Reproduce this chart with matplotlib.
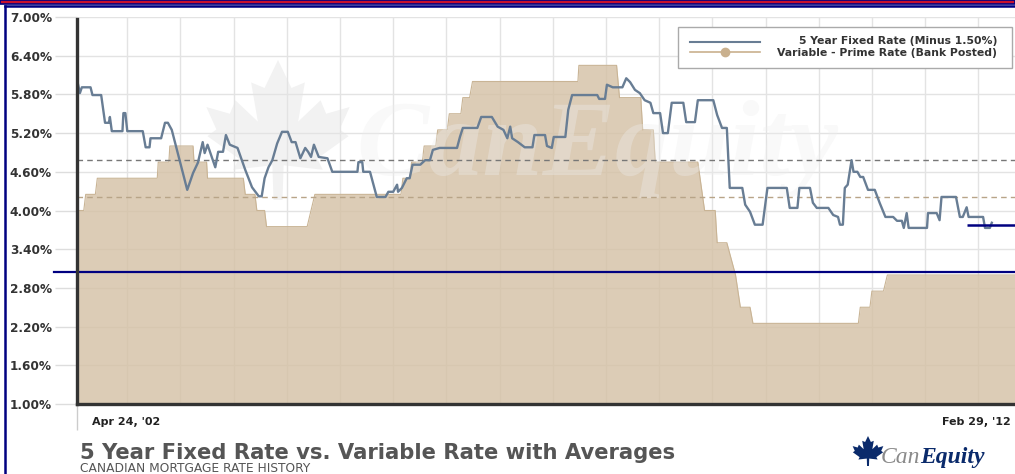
import matplotlib.pyplot as plt
import numpy as np
from matplotlib.patches import Rectangle, Polygon
from matplotlib.lines import Line2D

# 5 year fixed rate minus 1.50% (decimal year, %)
fixed_t = [2002.32, 2002.34, 2002.36, 2002.45, 2002.47, 2002.56, 2002.60, 2002.64, 2002.65, 2002.67,
           2002.78, 2002.79, 2002.81, 2002.83, 2002.99, 2003.02, 2003.06, 2003.07, 2003.18, 2003.22,
           2003.25, 2003.29, 2003.45, 2003.51, 2003.56, 2003.61, 2003.63, 2003.66, 2003.74, 2003.77,
           2003.82, 2003.85, 2003.89, 2003.97, 2004.05, 2004.12, 2004.19, 2004.22, 2004.25, 2004.29,
           2004.33, 2004.38, 2004.43, 2004.49, 2004.53, 2004.57, 2004.62, 2004.67, 2004.70, 2004.73,
           2004.76, 2004.81, 2004.90, 2004.95, 2005.21, 2005.22, 2005.26, 2005.27, 2005.34, 2005.41,
           2005.50, 2005.53, 2005.58, 2005.62, 2005.63, 2005.67, 2005.72, 2005.75, 2005.78, 2005.86,
           2005.91, 2005.96, 2005.99, 2006.06, 2006.24, 2006.27, 2006.30, 2006.45, 2006.49, 2006.60,
           2006.66, 2006.72, 2006.76, 2006.79, 2006.81, 2006.87, 2006.94, 2007.02, 2007.04, 2007.15,
           2007.17, 2007.22, 2007.24, 2007.36, 2007.39, 2007.43, 2007.69, 2007.71, 2007.77, 2007.79,
           2007.85, 2007.95, 2007.99, 2008.03, 2008.08, 2008.13, 2008.18, 2008.24, 2008.27, 2008.34,
           2008.37, 2008.42, 2008.46, 2008.58, 2008.61, 2008.70, 2008.73, 2008.89, 2008.93, 2008.98,
           2009.03, 2009.06, 2009.19, 2009.22, 2009.27, 2009.32, 2009.40, 2009.45, 2009.65, 2009.68,
           2009.76, 2009.78, 2009.89, 2009.92, 2009.96, 2010.08, 2010.13, 2010.18, 2010.20, 2010.23,
           2010.25, 2010.28, 2010.32, 2010.34, 2010.38, 2010.41, 2010.44, 2010.49, 2010.56, 2010.61,
           2010.67, 2010.75, 2010.79, 2010.84, 2010.86, 2010.89, 2010.91, 2011.10, 2011.11, 2011.20,
           2011.23, 2011.25, 2011.40, 2011.44, 2011.47, 2011.51, 2011.53, 2011.68, 2011.70, 2011.75,
           2011.77]
fixed_rate = [5.96, 5.82, 5.91, 5.91, 5.79, 5.79, 5.36, 5.36, 5.45, 5.23,
              5.23, 5.51, 5.51, 5.23, 5.23, 4.98, 4.98, 5.12, 5.12, 5.36,
              5.36, 5.25, 4.32, 4.58, 4.74, 5.06, 4.89, 5.02, 4.67, 4.91,
              4.91, 5.17, 5.02, 4.97, 4.63, 4.36, 4.22, 4.22, 4.50, 4.67,
              4.78, 5.04, 5.22, 5.22, 5.06, 5.06, 4.81, 4.97, 4.91, 4.83,
              5.02, 4.83, 4.81, 4.60, 4.60, 4.75, 4.75, 4.60, 4.60, 4.21,
              4.21, 4.29, 4.29, 4.40, 4.29, 4.35, 4.50, 4.50, 4.71, 4.71,
              4.78, 4.78, 4.94, 4.97, 4.97, 5.14, 5.28, 5.28, 5.45, 5.45,
              5.30, 5.25, 5.12, 5.30, 5.12, 5.06, 4.98, 4.98, 5.17, 5.17,
              5.00, 4.97, 5.14, 5.14, 5.56, 5.79, 5.79, 5.73, 5.73, 5.95,
              5.91, 5.91, 6.05, 5.99, 5.87, 5.82, 5.71, 5.67, 5.51, 5.51,
              5.20, 5.20, 5.67, 5.67, 5.37, 5.37, 5.71, 5.71, 5.48, 5.28,
              5.28, 4.35, 4.35, 4.09, 3.98, 3.78, 3.78, 4.35, 4.35, 4.04,
              4.04, 4.35, 4.35, 4.12, 4.04, 4.04, 3.93, 3.90, 3.78, 3.78,
              4.35, 4.40, 4.78, 4.60, 4.60, 4.52, 4.52, 4.32, 4.32, 4.12,
              3.90, 3.90, 3.84, 3.84, 3.73, 3.96, 3.73, 3.73, 3.96, 3.96,
              3.85, 4.21, 4.21, 3.90, 3.90, 4.05, 3.90, 3.90, 3.73, 3.73,
              3.81]

# variable - prime rate (bank posted)
prime_t = [2002.31, 2002.38, 2002.40, 2002.50, 2002.52, 2003.14, 2003.15, 2003.26, 2003.27, 2003.51,
           2003.52, 2003.65, 2003.66, 2004.03, 2004.05, 2004.15, 2004.17, 2004.25, 2004.27, 2004.69,
           2004.77, 2005.66, 2005.68, 2005.75, 2005.77, 2005.88, 2005.90, 2006.02, 2006.04, 2006.14,
           2006.16, 2006.28, 2006.30, 2006.37, 2006.40, 2007.49, 2007.50, 2007.89, 2007.92, 2008.14,
           2008.16, 2008.27, 2008.29, 2008.73, 2008.80, 2008.91, 2008.93, 2009.03, 2009.12, 2009.17,
           2009.27, 2009.30, 2010.39, 2010.41, 2010.51, 2010.53, 2010.65, 2010.69, 2012.01]
prime_rate = [4.00, 4.00, 4.25, 4.25, 4.50, 4.50, 4.75, 4.75, 5.00, 5.00,
              4.75, 4.75, 4.50, 4.50, 4.25, 4.25, 4.00, 4.00, 3.75, 3.75,
              4.25, 4.25, 4.50, 4.50, 4.75, 4.75, 5.00, 5.00, 5.25, 5.25,
              5.50, 5.50, 5.75, 5.75, 6.00, 6.00, 6.25, 6.25, 5.75, 5.75,
              5.25, 5.25, 4.75, 4.75, 4.00, 4.00, 3.50, 3.50, 3.00, 2.50,
              2.50, 2.25, 2.25, 2.50, 2.50, 2.75, 2.75, 3.00, 3.00]

fixed_avg = 4.78
prime_avg = 4.21
long_avg = 3.05
recent_avg = 3.78
recent_start = 2011.51

t_start, t_end = 2002.31, 2012.01
y_ticks = [1.00, 1.60, 2.20, 2.80, 3.40, 4.00, 4.60, 5.20, 5.80, 6.40, 7.00]
x_labels = ["Apr 24, '02", "Feb 29, '12"]
legend_labels = ["5 Year Fixed Rate (Minus 1.50%)", "Variable - Prime Rate (Bank Posted)"]

W, H = 1015, 474
NAVY = '#000080'
TAN = '#d4c0a4'
SLATE = '#687d94'

fig = plt.figure(figsize=(W / 100, H / 100), dpi=100)
fig.patch.set_facecolor('white')

def fx(px):
    return px / W

def fy(py):
    return 1 - py / H

# page frame
fig.add_artist(Rectangle((0, fy(4)), 1, 4 / H, transform=fig.transFigure, facecolor='#c8102e',
                         edgecolor=NAVY, linewidth=1.2, zorder=5))
fig.add_artist(Line2D([fx(5), fx(5)], [fy(6), 0], transform=fig.transFigure, color=NAVY, lw=1.8, zorder=5))
fig.add_artist(Line2D([fx(5), 1], [fy(6), fy(6)], transform=fig.transFigure, color=NAVY, lw=1.8, zorder=5))

# maple leaf shape
leaf = [(0, 1), (0.12, 0.75), (0.24, 0.8), (0.18, 0.45), (0.38, 0.64), (0.43, 0.52), (0.64, 0.58),
        (0.55, 0.38), (0.63, 0.32), (0.35, 0.12), (0.4, 0.02), (0.05, 0.06), (0.04, -0.25),
        (-0.04, -0.25), (-0.05, 0.06), (-0.4, 0.02), (-0.35, 0.12), (-0.63, 0.32), (-0.55, 0.38),
        (-0.64, 0.58), (-0.43, 0.52), (-0.38, 0.64), (-0.18, 0.45), (-0.24, 0.8), (-0.12, 0.75)]

def add_leaf(cx, top, size, color, z):
    pts = [(fx(cx + u * size), fy(top + (1 - v) * size)) for u, v in leaf]
    fig.add_artist(Polygon(pts, closed=True, transform=fig.transFigure, facecolor=color,
                           edgecolor='none', zorder=z))

add_leaf(278, 60, 112, '#f2f2f2', -1)
add_leaf(868, 436, 24, '#0a2a6b', 5)

ax = fig.add_axes([fx(77), fy(404), 938 / W, 387 / H])
ax.set_facecolor('none')
ax.set_xlim(t_start, t_end)
ax.set_ylim(1, 7)

ax.fill_between(prime_t, 1, prime_rate, color=TAN, alpha=0.8, linewidth=0, zorder=2)
ax.plot(prime_t, prime_rate, color='#c9b495', lw=0.8, zorder=2)

ax.text(0.555, 0.66, 'CanEquity', transform=ax.transAxes, ha='center', va='center',
        fontsize=78, family='Liberation Serif', style='italic', fontweight='bold',
        color='#eeeeee', alpha=0.35, zorder=2.5)

ax.axhline(fixed_avg, color='#777777', lw=1, dashes=(4, 3), zorder=3)
ax.axhline(prime_avg, color='#b8a488', lw=1, dashes=(4, 3), zorder=3)

ax.plot(fixed_t, fixed_rate, color=SLATE, lw=1.7, zorder=4)

ax.axhline(long_avg, xmin=-0.024, xmax=1, color=NAVY, lw=1.6, clip_on=False, zorder=5)
ax.hlines(recent_avg, recent_start, t_end, color=NAVY, lw=1.8, zorder=5)

# grid
ax.set_yticks(y_ticks)
ax.set_yticklabels([f'{v:.2f}%' for v in y_ticks], fontweight='bold', color='#333333', fontsize=8.7)
ax.set_xticks([t_start])
ax.set_xticklabels([''])
ax.set_xticks(np.arange(t_start + 0.52, t_end, 0.55), minor=True)
ax.grid(axis='y', which='major', color='#e3e3e3', lw=1)
ax.grid(axis='x', which='minor', color='#e3e3e3', lw=1)
ax.set_axisbelow(True)
ax.tick_params(axis='y', length=16, color='#dddddd', width=1, pad=2)
ax.tick_params(axis='x', which='major', length=19, color='#cccccc', width=1)
ax.tick_params(axis='x', which='minor', length=0)

for s in ['top', 'right']:
    ax.spines[s].set_visible(False)
for s in ['left', 'bottom']:
    ax.spines[s].set_color('#333333')
    ax.spines[s].set_linewidth(2.4)
    ax.spines[s].set_zorder(6)
ax.spines['left'].set_bounds(1, 6.97)

ax.text(0.016, -0.046, x_labels[0], transform=ax.transAxes, ha='left', va='center',
        fontsize=8, fontweight='bold', color='#222222')
ax.text(0.995, -0.046, x_labels[1], transform=ax.transAxes, ha='right', va='center',
        fontsize=8, fontweight='bold', color='#222222')

# legend box
ax.add_patch(Rectangle((0.641, 0.868), 0.356, 0.106, transform=ax.transAxes, facecolor='white',
                       edgecolor='#aaaaaa', lw=1, zorder=7, clip_on=False))
ax.plot([0.654, 0.728], [0.935, 0.935], transform=ax.transAxes, color=SLATE, lw=1.5, zorder=8,
        clip_on=False)
ax.plot([0.654, 0.728], [0.909, 0.909], transform=ax.transAxes, color='#c9b08e', lw=1.2, zorder=8,
        clip_on=False)
ax.plot([0.691], [0.909], transform=ax.transAxes, marker='o', ms=6, color='#c9b08e', zorder=8,
        clip_on=False)
ax.text(0.981, 0.937, legend_labels[0], transform=ax.transAxes, ha='right', va='center',
        fontsize=7.8, fontweight='bold', color='#333333', zorder=8)
ax.text(0.981, 0.907, legend_labels[1], transform=ax.transAxes, ha='right', va='center',
        fontsize=7.8, fontweight='bold', color='#333333', zorder=8)

# titles
fig.text(fx(80), fy(459), '5 Year Fixed Rate vs. Variable Rate with Averages', ha='left',
         va='baseline', fontsize=15.2, fontweight='bold', color='#555555')
fig.text(fx(80), fy(471.5), 'CANADIAN MORTGAGE RATE HISTORY', ha='left', va='baseline',
         fontsize=8.8, color='#555555')

# logo
renderer = fig.canvas.get_renderer()
can = fig.text(fx(881), fy(463), 'Can', ha='left', va='baseline', fontsize=17,
               family='Liberation Serif', style='italic', color='#8a8a8a')
bb = can.get_window_extent(renderer)
fig.text(bb.x1 / W, fy(463), 'Equity', ha='left', va='baseline', fontsize=17,
         family='Liberation Serif', style='italic', fontweight='bold', color='#0a2a6b')

fig.savefig('out.png', dpi=100)
